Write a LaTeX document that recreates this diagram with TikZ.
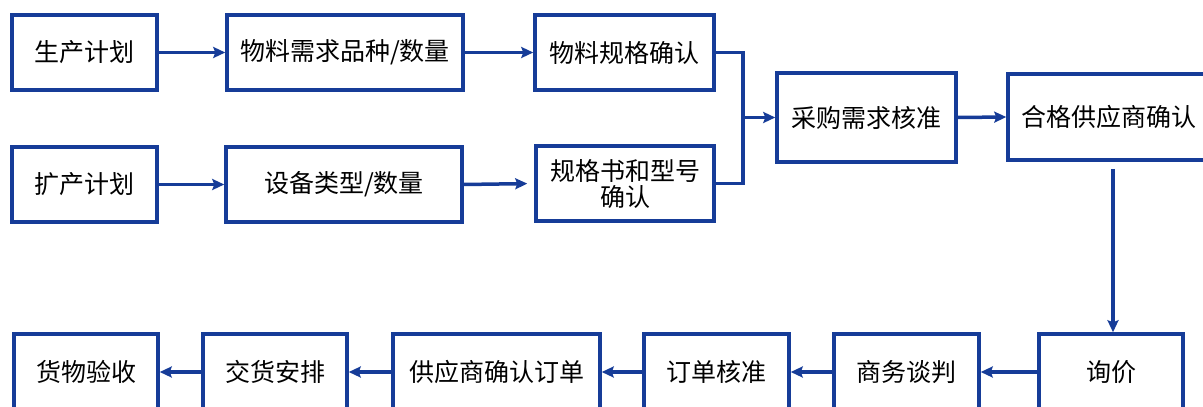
\documentclass[tikz,border=0pt]{standalone}
\usepackage{fontspec}
\newfontfamily\cjk{Noto Sans CJK SC}
\usetikzlibrary{arrows.meta}
\definecolor{flowblue}{RGB}{22,60,152}
\tikzset{
  box/.style={draw=flowblue, line width=3.5pt, fill=white, inner sep=0pt,
    minimum height=#1, font=\cjk\fontsize{25}{29}\selectfont, align=center, text=black},
  box/.default=75pt,
  conn/.style={draw=flowblue, line width=3.5pt, line join=miter},
  arr/.style={conn, -{Stealth[length=12pt,width=11pt,inset=2pt]}}
}
\begin{document}
\begin{tikzpicture}[x=1pt,y=-1pt]
\useasboundingbox (0,0) rectangle (1203,407);
% row 1
\node[box, minimum width=145pt] (A) at (84.5,52.5) {生产计划};
\node[box, minimum width=236pt] (B) at (345,52.5) {物料需求品种/数量};
\node[box, minimum width=179pt] (C) at (624.5,52.5) {物料规格确认};
% row 2
\node[box, minimum width=145pt] (D) at (84.5,184.5) {扩产计划};
\node[box, minimum width=236pt] (E) at (344,184.5) {设备类型/数量};
\node[box, minimum width=178pt] (F) at (625,183.5) {规格书和型号\\[-3pt]确认};
% middle
\node[box=89pt, minimum width=179pt] (G) at (866.5,117.5) {采购需求核准};
\node[box=86pt, minimum width=202pt] (H) at (1109,117) {合格供应商确认};
% bottom row
\node[box=76pt, minimum width=144pt] (I) at (1111,372) {询价};
\node[box=76pt, minimum width=145pt] (J) at (906.5,372) {商务谈判};
\node[box=76pt, minimum width=145pt] (K) at (716.5,372) {订单核准};
\node[box=76pt, minimum width=207pt] (L) at (496.5,372) {供应商确认订单};
\node[box=76pt, minimum width=144pt] (M) at (275,372) {交货安排};
\node[box=76pt, minimum width=144pt] (N) at (86,372) {货物验收};
% connectors
\draw[arr] (A.east) -- (B.west);
\draw[arr] (B.east) -- (C.west);
\draw[arr] (D.east) -- (E.west);
\draw[arr, shorten >=7pt] (E.east) -- (F.west);
\coordinate (J1) at (743,117.5);
\draw[conn] (C.east) -| (J1) |- (F.east);
\draw[arr] (J1) -- (G.west);
\draw[arr] (G.east) -- (H.west);
\coordinate (V1) at (1113,0);
\draw[arr, shorten <=7pt] (H.south -| V1) -- (I.north -| V1);
\draw[arr] (I.west) -- (J.east);
\draw[arr] (J.west) -- (K.east);
\draw[arr] (K.west) -- (L.east);
\draw[arr] (L.west) -- (M.east);
\draw[arr] (M.west) -- (N.east);
\end{tikzpicture}
\end{document}
